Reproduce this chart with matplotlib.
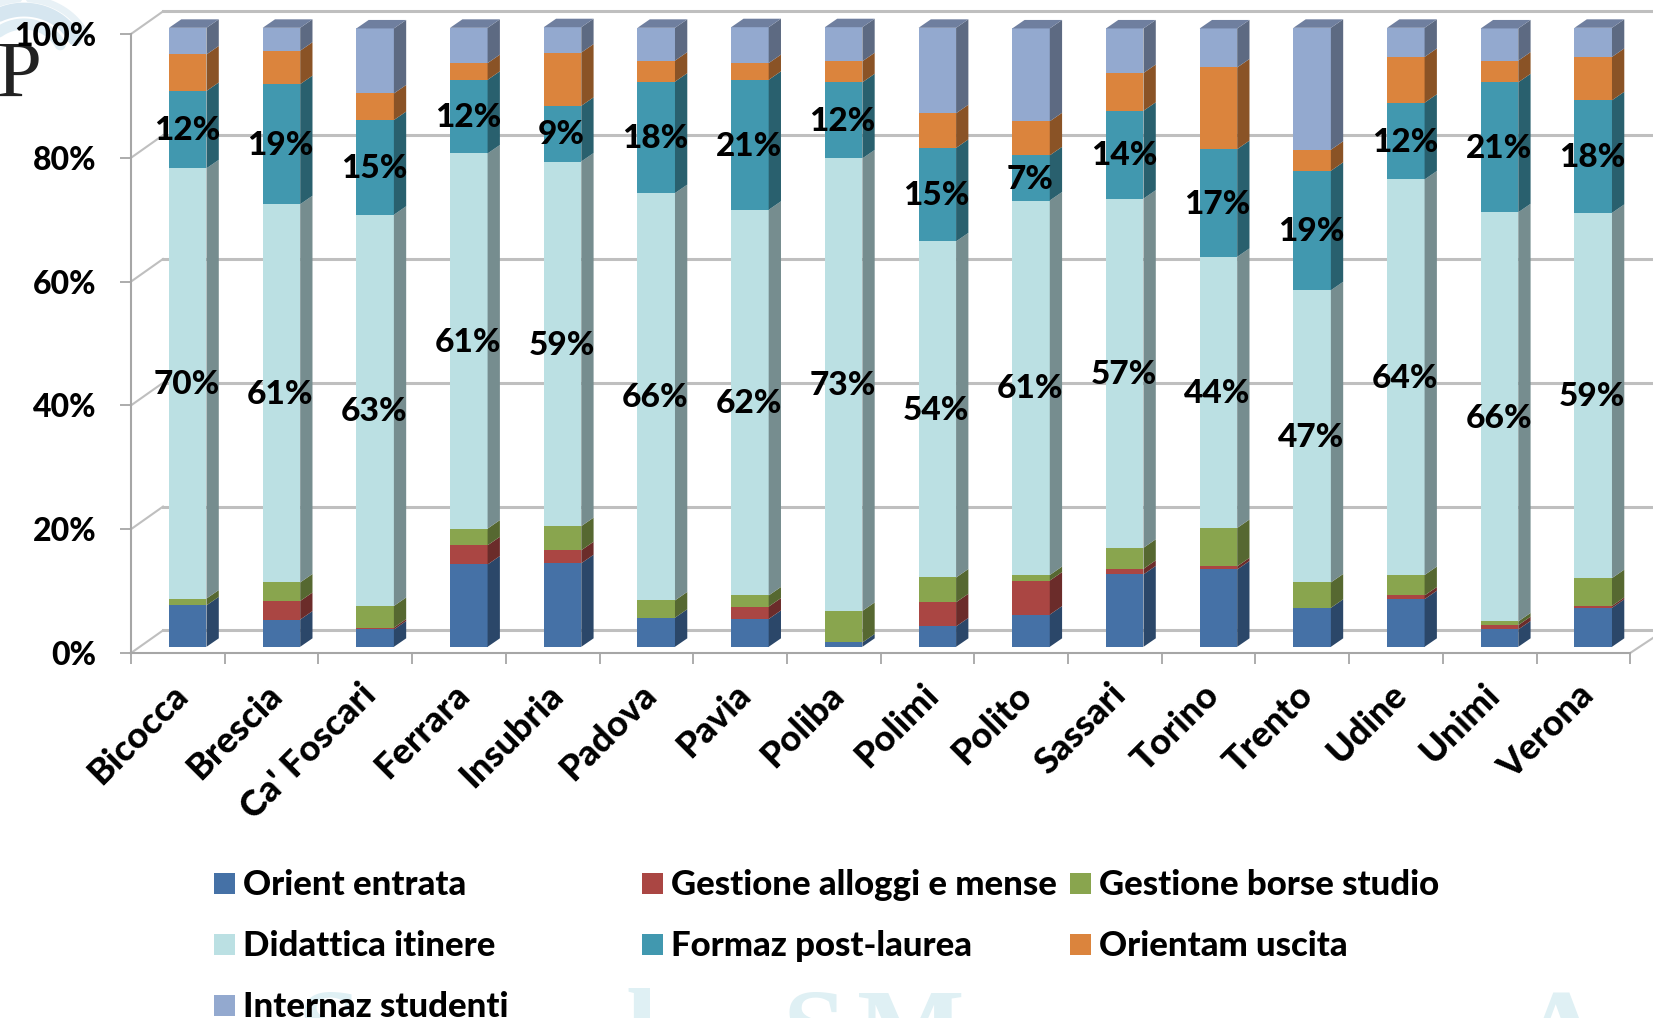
import numpy as np
import matplotlib
matplotlib.use("Agg")
import matplotlib.pyplot as plt
from matplotlib.colors import to_rgb
from matplotlib.patches import Rectangle
from matplotlib.transforms import Affine2D

plt.rcParams['font.family'] = ['Lato', 'DejaVu Sans']

# Data (percent of each university's total)
universities = ["Bicocca", "Brescia", "Ca' Foscari", "Ferrara", "Insubria", "Padova", "Pavia", "Poliba",
                "Polimi", "Polito", "Sassari", "Torino", "Trento", "Udine", "Unimi", "Verona"]
orient_entrata = [6.7, 4.4, 2.8, 13.3, 13.5, 4.7, 4.5, 0.7, 3.3, 5.2, 11.7, 12.5, 6.3, 7.7, 2.8, 6.3]
gestione_alloggi = [0.0, 3.0, 0.3, 3.1, 2.1, 0.0, 2.0, 0.0, 3.9, 5.5, 0.9, 0.5, 0.0, 0.6, 0.7, 0.3]
gestione_borse = [1.1, 3.0, 3.5, 2.7, 3.9, 2.8, 1.8, 5.1, 4.0, 0.9, 3.4, 6.2, 4.1, 3.3, 0.6, 4.5]
didattica = [69.5, 61.1, 63.2, 60.6, 58.9, 65.8, 62.3, 73.1, 54.3, 60.5, 56.4, 43.8, 47.2, 63.9, 66.1, 59.0]
formaz = [12.5, 19.4, 15.3, 11.9, 9.0, 18.0, 21.0, 12.3, 15.1, 7.3, 14.2, 17.4, 19.3, 12.4, 21.0, 18.2]
orientam = [5.9, 5.4, 4.3, 2.7, 8.6, 3.4, 2.7, 3.4, 5.6, 5.5, 6.1, 13.2, 3.4, 7.4, 3.5, 7.0]
internaz = [4.3, 3.7, 10.5, 5.7, 4.1, 5.3, 5.8, 5.5, 13.8, 15.0, 7.2, 6.3, 19.7, 4.7, 5.2, 4.7]

didattica_labels = [70, 61, 63, 61, 59, 66, 62, 73, 54, 61, 57, 44, 47, 64, 66, 59]
formaz_labels = [12, 19, 15, 12, 9, 18, 21, 12, 15, 7, 14, 17, 19, 12, 21, 18]

series_names = ["Orient entrata", "Gestione alloggi e mense", "Gestione borse studio",
                "Didattica itinere", "Formaz post-laurea", "Orientam uscita", "Internaz studenti"]
series_values = [orient_entrata, gestione_alloggi, gestione_borse, didattica, formaz, orientam, internaz]
series_colors = ["#4571A6", "#AA4643", "#89A54E", "#BBE0E3", "#4198AF", "#DB843D", "#93A9CF"]

W, H = 1653, 1018
CAT_PX = 93.7   # pixels per category
PCT_PX = 6.19   # pixels per percent
X0, Y0 = 131, 653   # where the front axes meet
WEIGHT = 'black'

fig = plt.figure(figsize=(W / 100, H / 100), dpi=100)
ax = fig.add_axes([0, 0, 1, 1])
ax.set_xlim(-X0 / CAT_PX, (W - X0) / CAT_PX)
ax.set_ylim((Y0 - H) / PCT_PX, Y0 / PCT_PX)

# pixel coordinates for the decoration and the legend
px = Affine2D().scale(1 / W, -1 / H).translate(0, 1) + fig.transFigure

# logo behind everything
t = np.linspace(0, 1, 60)
for r, lw, col in [(56, 10, "#D6E6F0"), (40, 8, "#DFEDF4"), (68, 5, "#E8F1F6")]:
    ang = np.radians(195 + 140 * t)
    ax.plot(24 + r * np.cos(ang), 60 + 0.9 * r * np.sin(ang), color=col, lw=lw, transform=px, zorder=0,
            solid_capstyle='round')
ax.text(-3, 97, "P", transform=px, family='Liberation Serif', fontsize=58, color="#222222", va='baseline', zorder=1)

# faint watermark along the bottom edge
for x, s in [(298, "S"), (626, "l"), (783, "S"), (857, "M"), (1520, "A")]:
    ax.text(x, 1068, s, transform=px, family='Liberation Serif', fontweight='bold', fontsize=82,
            color="#DFF0F4", va='baseline', zorder=1)

# back wall and floor
GRID = "#BFBFBF"
back_dx = 32 / CAT_PX
back_dy = 3.65
right = (W - X0) / CAT_PX
for p in range(0, 101, 20):
    ax.plot([back_dx, right], [p + back_dy, p + back_dy], color=GRID, lw=2.2, zorder=1.5)
    ax.plot([0, back_dx], [p, p + back_dy], color=GRID, lw=1.5, zorder=1.5)
ax.plot([16, 16 + 0.28], [0, 2.8], color=GRID, lw=1.5, zorder=1.5)

# bars with their side and top faces
bar_w = 37.5 / CAT_PX
side_dx = 12.3 / CAT_PX
side_dy = 1.37
base = 1.0
x_pos = np.arange(len(universities)) + 0.6055

bottoms = np.full(len(universities), base)
for name, vals, col in zip(series_names, series_values, series_colors):
    vals = np.array(vals)
    ax.bar(x_pos, vals, bar_w, bottom=bottoms, color=col, zorder=3, linewidth=0)
    side = tuple(c * 0.63 for c in to_rgb(col))
    for x, b, v in zip(x_pos, bottoms, vals):
        if v > 0:
            r = x + bar_w / 2
            ax.fill([r, r + side_dx, r + side_dx, r], [b, b + side_dy, b + v + side_dy, b + v],
                    color=side, lw=0, zorder=3)
    bottoms = bottoms + vals

top_col = "#6F7F9F"
for x, b in zip(x_pos, bottoms):
    l, r = x - bar_w / 2, x + bar_w / 2
    ax.fill([l, r, r + side_dx, l + side_dx], [b, b, b + side_dy, b + side_dy], color=top_col, lw=0, zorder=3)

# value labels, only on the two large series
below = np.array(orient_entrata) + np.array(gestione_alloggi) + np.array(gestione_borse)
didattica_mid = base + below + np.array(didattica) / 2
formaz_mid = base + below + np.array(didattica) + np.array(formaz) / 2
for x, y, v in zip(x_pos, didattica_mid, didattica_labels):
    ax.text(x - 0.01, y - 0.2, f"{v}%", ha='center', va='center', fontsize=24, fontweight=WEIGHT, color='black', zorder=5)
for x, y, v in zip(x_pos, formaz_mid, formaz_labels):
    ax.text(x - 0.01, y - 0.2, f"{v}%", ha='center', va='center', fontsize=24, fontweight=WEIGHT, color='black', zorder=5)

# axes
AXIS = "#A6A6A6"
for s in ['top', 'right']:
    ax.spines[s].set_visible(False)
ax.spines['left'].set_position(('data', 0))
ax.spines['bottom'].set_position(('data', 0))
ax.spines['left'].set_bounds(0, 100)
ax.spines['bottom'].set_bounds(0, 16)
ax.spines['left'].set_color(AXIS)
ax.spines['bottom'].set_color(AXIS)
ax.spines['left'].set_linewidth(1.5)
ax.spines['bottom'].set_linewidth(1.5)
ax.set_yticks(range(0, 101, 20))
ax.set_yticklabels([f"{p}%" for p in range(0, 101, 20)], fontsize=23, fontweight=WEIGHT)
ax.tick_params(axis='y', length=8, width=1.3, color=AXIS, pad=17)
ax.set_xticks(range(17))
ax.set_xticklabels([])
ax.tick_params(axis='x', which='major', length=8, width=1.3, color=AXIS)
ax.set_xticks(np.arange(16) + 0.43, minor=True)
ax.set_xticklabels(universities, minor=True, rotation=45, ha='right', va='top', rotation_mode='anchor',
                   fontsize=26, fontweight=WEIGHT)
ax.tick_params(axis='x', which='minor', length=0, pad=18)

# legend laid out row by row like the original
leg_x = [214, 642, 1070]
leg_y = [873, 934, 995]
for i, (name, col) in enumerate(zip(series_names, series_colors)):
    lx = leg_x[i % 3]
    ly = leg_y[i // 3]
    ax.add_patch(Rectangle((lx, ly), 21, 21, transform=px, color=col, lw=0, zorder=4))
    ax.text(lx + 29, ly + 12, name, transform=px, fontsize=25, fontweight=WEIGHT, va='center', ha='left',
            color='black', zorder=5)

fig.savefig("out.png", dpi=100, facecolor='white')
